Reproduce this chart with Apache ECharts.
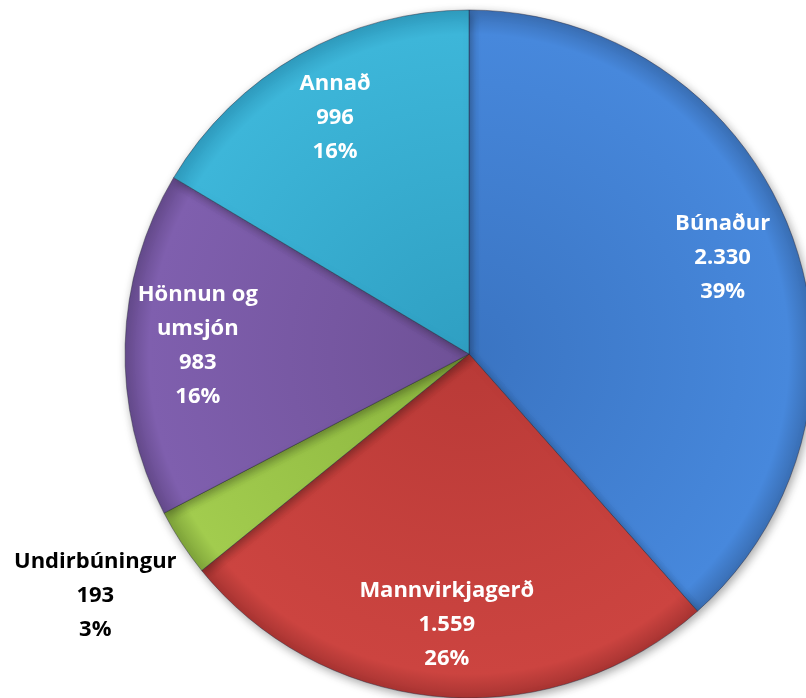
<!DOCTYPE html>
<html>
<head>
<meta charset="utf-8">
<script src="https://cdn.jsdelivr.net/npm/echarts@6/dist/echarts.min.js"></script>
<style>
  html, body { margin: 0; padding: 0; background: #ffffff; }
  #chart { width: 806px; height: 698px; }
</style>
</head>
<body>
<div id="chart"></div>
<script>
const categories = ['Búnaður', 'Mannvirkjagerð', 'Undirbúningur', 'Hönnun og umsjón', 'Annað'];
const nameLabels = ['Búnaður', 'Mannvirkjagerð', 'Undirbúningur', 'Hönnun og\numsjón', 'Annað'];
const values = [2330, 1559, 193, 983, 996];
const percentLabels = ['39%', '26%', '3%', '16%', '16%'];
const sliceColors = [
  ['#3a74c2', '#4788dc', '#3a6fb5'],
  ['#b93a37', '#cc4440', '#a83432'],
  ['#8ab43e', '#a2cc4e', '#7fa43a'],
  ['#6f5197', '#7f5fae', '#654a8c'],
  ['#2f9fc2', '#3db6d9', '#2f9cbf']
];

const CX = 469, CY = 354, R = 344;

function fmt(v) {
  return String(v).replace(/\B(?=(\d{3})+(?!\d))/g, '.');
}

const chart = echarts.init(document.getElementById('chart'), null, { renderer: 'canvas' });

const pieData = categories.map((c, i) => ({
  name: c,
  value: values[i],
  itemStyle: {
    color: {
      type: 'radial', x: CX, y: CY, r: R, global: true,
      colorStops: [
        { offset: 0, color: sliceColors[i][0] },
        { offset: 0.93, color: sliceColors[i][1] },
        { offset: 1, color: sliceColors[i][2] }
      ]
    }
  }
}));

const labelData = categories.map((c, i) => {
  const item = { name: c, value: values[i] };
  if (i === 2) {
    item.label = { position: 'outside', color: '#000000' };
    item.labelLine = { show: false, length: 97, length2: 0 };
  }
  return item;
});

chart.setOption({
  animation: false,
  backgroundColor: '#ffffff',
  series: [
    {
      type: 'pie',
      center: [CX, CY],
      radius: [0, R],
      startAngle: 90,
      clockwise: true,
      silent: true,
      label: { show: false },
      labelLine: { show: false },
      itemStyle: {
        borderColor: 'rgba(40,40,60,0.45)',
        borderWidth: 1,
        shadowBlur: 10,
        shadowColor: 'rgba(0,0,0,0.35)',
        shadowOffsetX: 2,
        shadowOffsetY: 3
      },
      data: pieData
    },
    {
      type: 'pie',
      center: [CX, CY],
      radius: [R * 0.56, R],
      startAngle: 90,
      clockwise: true,
      silent: true,
      avoidLabelOverlap: false,
      itemStyle: { color: 'rgba(0,0,0,0)' },
      label: {
        show: true,
        position: 'inside',
        color: '#ffffff',
        fontFamily: 'Open Sans',
        fontWeight: 'bold',
        fontSize: 22,
        lineHeight: 34,
        align: 'center',
        formatter: p => nameLabels[p.dataIndex] + '\n' + fmt(values[p.dataIndex]) + '\n' + percentLabels[p.dataIndex]
      },
      labelLine: { show: false },
      labelLayout: function (p) {
        if (p.dataIndex === 2) return { align: 'center' };
        return {};
      },
      data: labelData
    }
  ]
});
</script>
</body>
</html>
